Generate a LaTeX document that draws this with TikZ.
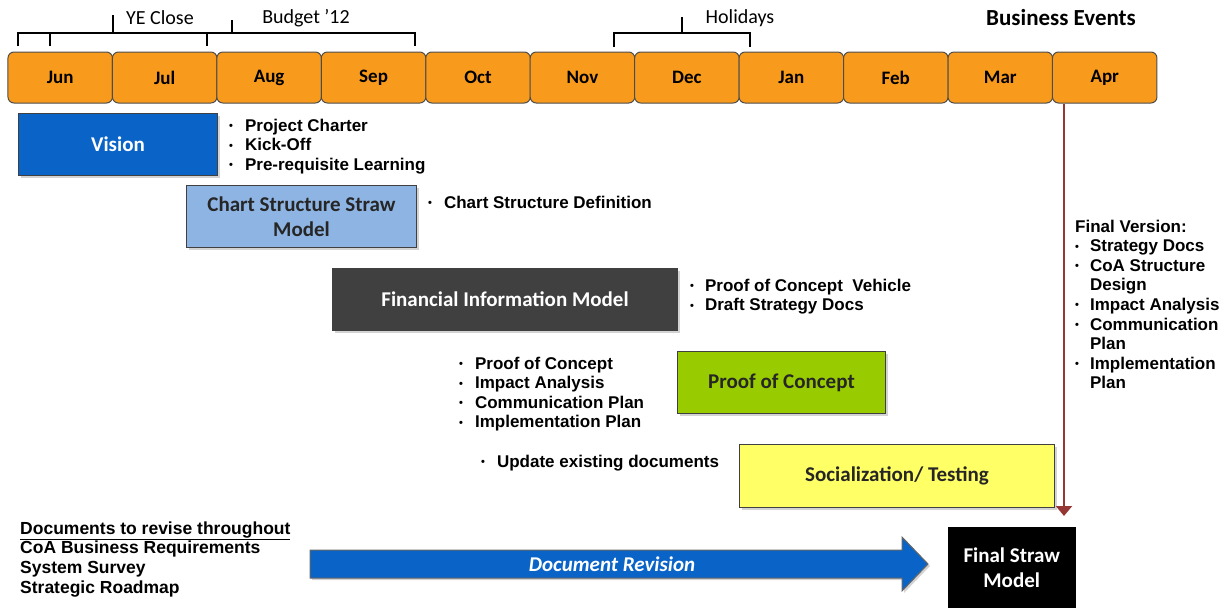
\documentclass[tikz,border=0pt]{standalone}
\usepackage{fontspec}
\setmainfont{Liberation Sans}
\newfontfamily\calib{Carlito}
\usetikzlibrary{shadows,arrows.meta}
\definecolor{monthfill}{HTML}{F89B1C}
\definecolor{visionblue}{HTML}{0A64C8}
\definecolor{chartblue}{HTML}{8DB4E2}
\definecolor{fimgray}{HTML}{404040}
\definecolor{pocgreen}{HTML}{99CC00}
\definecolor{socyellow}{HTML}{FFFF66}
\definecolor{finalred}{HTML}{953735}
\newcommand{\bdot}{{\fontsize{11}{11}\selectfont\raisebox{1.5pt}{•}}}
\begin{document}
\begin{tikzpicture}[x=1pt,y=-1pt,
  month/.style={draw=black!70, line width=1pt, fill=monthfill, rounded corners=6pt,
    minimum width=104.5pt, minimum height=51pt, inner sep=0pt,
    font=\calib\bfseries\fontsize{19}{22}\selectfont},
  phase/.style={draw=black!75, line width=1pt, inner sep=2pt, align=center,
    drop shadow={opacity=0.35, shadow xshift=2pt, shadow yshift=-2pt},
    font=\calib\bfseries\fontsize{21}{25}\selectfont},
  bul/.style={anchor=base west, inner sep=0pt,
    font=\bfseries\fontsize{17}{19.6}\selectfont},
  brk/.style={line width=2.3pt, line cap=butt, line join=miter},
  brklabel/.style={inner sep=0pt, font=\calib\fontsize{20}{22}\selectfont},
]
\useasboundingbox (0,0) rectangle (1227,608);

% months
\foreach \m [count=\i] in {Jun,Jul,Aug,Sep,Oct,Nov,Dec,Jan,Feb,Mar,Apr}
  \node[month] (\m) at ({8+104.45*(\i-0.5)},77.5) {\m};

% brackets
\draw[brk] (18,46) -- (18,33) -- (207,33) -- (207,46);
\draw[brk] (50,33) -- (50,46);
\draw[brk] (113,33) -- (113,15);
\draw[brk] (207,33) -- (415,33) -- (415,46);
\draw[brk] (232,33) -- (232,20);
\draw[brk] (614,47) -- (614,33) -- (750,33) -- (750,47);
\draw[brk] (682,33) -- (682,17);
\node[brklabel] (ye) at (160,18) {YE Close};
\node[brklabel] (budget) at (306,18) {Budget ’12};
\node[brklabel] (holidays) at (740,18) {Holidays};
\node[inner sep=0pt, font=\calib\bfseries\fontsize{23}{26}\selectfont] (events) at (1061,18) {Business Events};

% phases
\node[phase, fill=visionblue, text=white, minimum width=199pt, minimum height=62pt, anchor=north west] (vision) at (18,113) {Vision};
\node[phase, fill=chartblue, text=black!85, minimum width=230pt, minimum height=62pt, anchor=north west] (chart) at (186,185) {Chart Structure Straw\\Model};
\node[phase, fill=fimgray, text=white, minimum width=345pt, minimum height=62pt, anchor=north west] (fim) at (332,268) {Financial Information Model};
\node[phase, fill=pocgreen, text=black!85, minimum width=208pt, minimum height=62pt, anchor=north west] (poc) at (677,351) {Proof of Concept};
\node[phase, fill=socyellow, text=black!85, minimum width=315pt, minimum height=63pt, anchor=north west] (soc) at (739,444) {Socialization/ Testing};
\node[draw=black, fill=black, text=white, align=center, minimum width=127pt, minimum height=81pt, anchor=north west,
  font=\calib\bfseries\fontsize{21}{25}\selectfont] (final) at (948,527) {Final Straw\\Model};

% bullet lists
\node[bul] (vbul) at (229,131) {\begin{tabular}[t]{@{}l@{\hspace{12pt}}l@{}}
\bdot & Project Charter\\ \bdot & Kick-Off\\ \bdot & Pre-requisite Learning\end{tabular}};
\node[bul] (cbul) at (428,208) {\begin{tabular}[t]{@{}l@{\hspace{12pt}}l@{}}
\bdot & Chart Structure Definition\end{tabular}};
\node[bul] (fbul) at (690,291) {\begin{tabular}[t]{@{}l@{\hspace{11pt}}l@{}}
\bdot & Proof of Concept\ \ Vehicle\\ \bdot & Draft Strategy Docs\end{tabular}};
\node[bul] (pbul) at (459,369) {\begin{tabular}[t]{@{}l@{\hspace{12pt}}l@{}}
\bdot & Proof of Concept\\ \bdot & Impact Analysis\\ \bdot & Communication Plan\\ \bdot & Implementation Plan\end{tabular}};
\node[bul] (sbul) at (481,467) {\begin{tabular}[t]{@{}l@{\hspace{12pt}}l@{}}
\bdot & Update existing documents\end{tabular}};
\node[bul] (fv) at (1075,232) {\begin{tabular}[t]{@{}l@{\hspace{11pt}}l@{}}
\multicolumn{2}{@{}l@{}}{Final Version:}\\
\bdot & Strategy Docs\\ \bdot & CoA Structure\\ & Design\\ \bdot & Impact Analysis\\
\bdot & Communication\\ & Plan\\ \bdot & Implementation\\ & Plan\end{tabular}};
\node[bul, font=\bfseries\fontsize{17.5}{19.7}\selectfont] (docs) at (20,534) {\begin{tabular}[t]{@{}l@{}}
\underline{Documents to revise throughout}\\ CoA Business Requirements\\ System Survey\\ Strategic Roadmap\end{tabular}};

% final version connector
\coordinate (ftop) at (1064,516);
\draw[finalred, line width=2pt, -{Triangle[width=16pt,length=10pt]}] (Apr.south -| ftop) -- (ftop);

% document revision arrow
\filldraw[fill=visionblue, draw=black!60, line width=1pt,
  drop shadow={opacity=0.35, shadow xshift=2pt, shadow yshift=-2pt}]
  (310,550) -- (902,550) -- (902,537) -- (928,564) -- (902,591) -- (902,578) -- (310,578) -- cycle;
\node[text=white, inner sep=0pt, font=\calib\bfseries\itshape\fontsize{21}{24}\selectfont] (rev) at (612,564) {Document Revision};
\end{tikzpicture}
\end{document}
